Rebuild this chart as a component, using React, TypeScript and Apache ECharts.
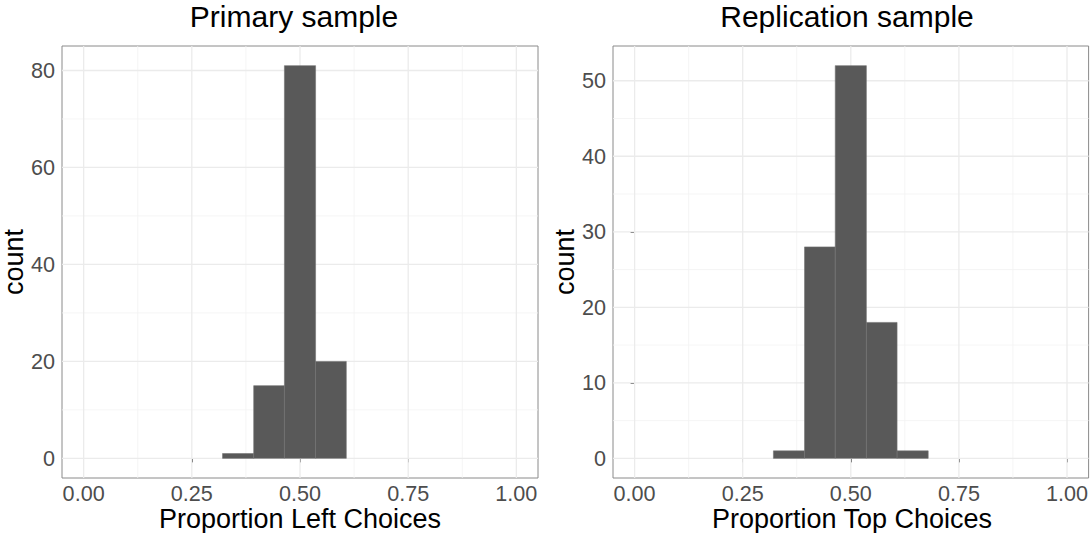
import React, { useEffect, useRef } from 'react';
import * as echarts from 'echarts';

const xTicks = [0, 0.25, 0.5, 0.75, 1];
const xTickLabels = ['0.00', '0.25', '0.50', '0.75', '1.00'];
const xMinor = [0.125, 0.375, 0.625, 0.875];

const primaryYTicks = [0, 20, 40, 60, 80];
const primaryYMinor = [10, 30, 50, 70];
const replicationYTicks = [0, 10, 20, 30, 40, 50];
const replicationYMinor = [5, 15, 25, 35, 45];

const primaryBinEdges = [0.321, 0.393, 0.464, 0.536, 0.607];
const primaryCounts = [1, 15, 81, 20];
const replicationBinEdges = [0.321, 0.393, 0.464, 0.536, 0.607, 0.679];
const replicationCounts = [1, 28, 52, 18, 1];

const titles = ['Primary sample', 'Replication sample'];
const xTitles = ['Proportion Left Choices', 'Proportion Top Choices'];
const yTitle = 'count';

const FONT = '"Liberation Sans", Arial, Helvetica, sans-serif';

function binsData(edges: number[], counts: number[]) {
  return counts.map((c, i) => [edges[i], edges[i + 1], c]);
}

function vLineSeries(vals: number[], idx: number, major: boolean) {
  return {
    type: 'custom',
    xAxisIndex: idx,
    yAxisIndex: idx,
    silent: true,
    z: 1,
    data: vals.map((v) => [v, 0]),
    encode: { x: 0, y: 1 },
    renderItem: (params: any, api: any) => {
      const cs = params.coordSys;
      const x = api.coord([api.value(0), 0])[0];
      return {
        type: 'line',
        shape: { x1: x, y1: cs.y, x2: x, y2: cs.y + cs.height },
        style: { stroke: major ? '#EBEBEB' : '#F3F3F3', lineWidth: major ? 1.3 : 0.8 },
      };
    },
  };
}

function hLineSeries(vals: number[], idx: number, major: boolean) {
  return {
    type: 'custom',
    xAxisIndex: idx,
    yAxisIndex: idx,
    silent: true,
    z: 1,
    data: vals.map((v) => [0, v]),
    encode: { x: 0, y: 1 },
    renderItem: (params: any, api: any) => {
      const cs = params.coordSys;
      const y = api.coord([0, api.value(1)])[1];
      return {
        type: 'line',
        shape: { x1: cs.x, y1: y, x2: cs.x + cs.width, y2: y },
        style: { stroke: major ? '#EBEBEB' : '#F3F3F3', lineWidth: major ? 1.3 : 0.8 },
      };
    },
  };
}

function barSeries(edges: number[], counts: number[], idx: number) {
  return {
    type: 'custom',
    xAxisIndex: idx,
    yAxisIndex: idx,
    silent: true,
    z: 3,
    data: binsData(edges, counts),
    encode: { x: [0, 1], y: 2 },
    renderItem: (params: any, api: any) => {
      const p0 = api.coord([api.value(0), api.value(2)]);
      const p1 = api.coord([api.value(1), 0]);
      return {
        type: 'rect',
        shape: { x: p0[0], y: p0[1], width: p1[0] - p0[0], height: p1[1] - p0[1] },
        style: { fill: '#595959', stroke: '#727272', lineWidth: 0.6 },
      };
    },
  };
}

function xAxis(idx: number) {
  return {
    type: 'value',
    gridIndex: idx,
    min: -0.05,
    max: 1.05,
    axisLine: { show: false },
    splitLine: { show: false },
    axisTick: { show: true, length: 4, customValues: xTicks, lineStyle: { color: '#333333', width: 1 } },
    axisLabel: {
      customValues: xTicks,
      margin: 5,
      color: '#4D4D4D',
      fontSize: 21.6,
      lineHeight: 20,
      fontFamily: FONT,
      formatter: (v: number) => {
        const i = xTicks.findIndex((t) => Math.abs(t - v) < 1e-9);
        return i >= 0 ? xTickLabels[i] : '';
      },
    },
  };
}

function yAxis(idx: number, min: number, max: number, ticks: number[]) {
  return {
    type: 'value',
    gridIndex: idx,
    min,
    max,
    axisLine: { show: false },
    splitLine: { show: false },
    axisTick: { show: true, length: 4, customValues: ticks, lineStyle: { color: '#333333', width: 1 } },
    axisLabel: {
      customValues: ticks,
      margin: 7,
      color: '#4D4D4D',
      fontSize: 21.6,
      fontFamily: FONT,
      formatter: (v: number) => String(Math.round(v)),
    },
  };
}

export default function App() {
  const ref = useRef<HTMLDivElement>(null);
  useEffect(() => {
    if (!ref.current) return;
    const chart = echarts.init(ref.current, undefined, { renderer: 'svg' });
    const gridStyle = { show: true, backgroundColor: '#ffffff', borderColor: '#8a8a8a', borderWidth: 1 };
    chart.setOption({
      animation: false,
      backgroundColor: '#ffffff',
      grid: [
        { left: 62, top: 46, width: 476, height: 432, ...gridStyle },
        { left: 613, top: 46, width: 477, height: 432, ...gridStyle },
      ],
      xAxis: [xAxis(0), xAxis(1)],
      yAxis: [
        yAxis(0, -4.05, 85.05, primaryYTicks),
        yAxis(1, -2.6, 54.6, replicationYTicks),
      ],
      series: [
        vLineSeries(xMinor, 0, false),
        hLineSeries(primaryYMinor, 0, false),
        vLineSeries(xTicks, 0, true),
        hLineSeries(primaryYTicks, 0, true),
        barSeries(primaryBinEdges, primaryCounts, 0),
        vLineSeries(xMinor, 1, false),
        hLineSeries(replicationYMinor, 1, false),
        vLineSeries(xTicks, 1, true),
        hLineSeries(replicationYTicks, 1, true),
        barSeries(replicationBinEdges, replicationCounts, 1),
      ],
      graphic: [
        {
          type: 'text', x: 294, y: 16,
          style: { text: titles[0], fontSize: 30, fontFamily: FONT, fill: '#000000', align: 'center', verticalAlign: 'middle' },
        },
        {
          type: 'text', x: 847, y: 16,
          style: { text: titles[1], fontSize: 30, fontFamily: FONT, fill: '#000000', align: 'center', verticalAlign: 'middle' },
        },
        {
          type: 'text', x: 300, y: 519,
          style: { text: xTitles[0], fontSize: 27, lineHeight: 26, fontFamily: FONT, fill: '#000000', align: 'center', verticalAlign: 'middle' },
        },
        {
          type: 'text', x: 852, y: 519,
          style: { text: xTitles[1], fontSize: 27, lineHeight: 26, fontFamily: FONT, fill: '#000000', align: 'center', verticalAlign: 'middle' },
        },
        {
          type: 'text', x: 14, y: 262, rotation: Math.PI / 2,
          style: { text: yTitle, fontSize: 27, fontFamily: FONT, fill: '#000000', align: 'center', verticalAlign: 'middle' },
        },
        {
          type: 'text', x: 565, y: 262, rotation: Math.PI / 2,
          style: { text: yTitle, fontSize: 27, fontFamily: FONT, fill: '#000000', align: 'center', verticalAlign: 'middle' },
        },
      ],
    });
    return () => chart.dispose();
  }, []);
  return <div ref={ref} style={{ position: 'absolute', left: 0, top: 0, width: 1091, height: 533 }} />;
}
